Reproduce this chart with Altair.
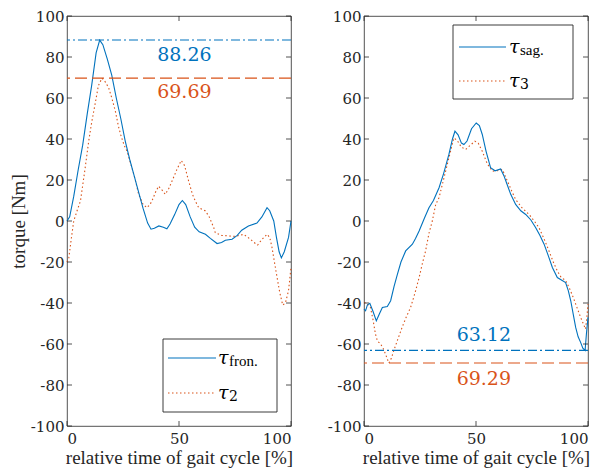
import altair as alt
import pandas as pd

BLUE = "#0072BD"
ORANGE = "#D95319"
FRAME = "#262626"
FONT = "Liberation Serif"      # latin letters
NUMFONT = "DejaVu Serif"       # digits / greek

# ---------------- data ----------------
fron_x = [0, 1.2, 3, 5, 7, 9, 11, 13, 14.6, 16, 18, 20, 22, 24, 26, 28, 30, 32, 34, 36, 37.5, 39, 41, 43,
          44.6, 46, 48, 50, 51.5, 53, 55, 57, 59, 61.8, 64, 67, 69, 70.7, 73.7, 76, 78, 81, 84.8, 87, 89.3,
          90.5, 92.3, 93.5, 94.7, 95.7, 97, 98.9, 100]
fron_y = [0, 2, 12, 25, 37, 52, 66, 82, 88.26, 86, 79, 71, 60, 50, 39, 30, 22, 14, 6, -1, -4, -3.5, -2.4, -3,
          -3.8, -1.5, 3, 8, 10, 8, 2, -3, -5.3, -6.5, -8.5, -11, -10.5, -9.4, -8.9, -7, -4.5, -2.4, -1, 2, 6.5,
          5, 0, -8, -15, -18, -15, -8, 0]

tau2_x = [0, 0.8, 2, 3, 4.5, 6, 8, 9.7, 11, 12.7, 14, 15.6, 17, 18.6, 20, 21.6, 23, 24, 25.5, 26.8, 29, 30.5,
          32, 34, 35.7, 37, 37.9, 39.5, 40.9, 42.5, 43.9, 45.5, 46.9, 49, 51, 52.5, 54.3, 56, 57.3, 58.8, 61.8,
          63.5, 65.5, 66.2, 69, 72.2, 75, 78.9, 81.9, 83.5, 85.1, 87, 89.3, 90.5, 91.5, 92.6, 93.8, 95, 96.3,
          97.5, 98.9, 100]
tau2_y = [-20, -18, -8, 0, 5, 9.7, 25, 39, 48, 58, 66, 69.69, 68, 65, 60, 53.5, 46, 42, 37, 34, 26, 20,
          13, 8, 6.5, 8, 9.7, 14, 17, 15, 13, 16, 19.5, 25, 29.5, 27, 19.5, 13, 9.7, 6.5, 4.9,
          2, -3.2, -5.7, -7, -7.3, -7.5, -6.5, -8.9, -10.5, -11.7, -9, -6.5, -8, -12.8, -20, -27.6, -35, -41,
          -40, -34, -22.7]

sag_x = [0, 0.7, 1.5, 2.6, 4, 5.5, 7, 8.2, 10.4, 11.9, 13.4, 14.9, 16.5, 18.6, 21.6, 23, 24.6, 27, 29, 31,
         33.5, 35.5, 37.9, 39.5, 40.6, 42, 43.5, 44.6, 46, 48, 50.1, 51.5, 52.8, 54.5, 56.5, 58.5, 61, 62.5,
         63.9, 65.5, 67.7, 70, 72.2, 74.5, 76.6, 78.5, 80.4, 82.3, 84.1, 86.3, 88.5, 90, 91.2, 92.3, 93.5,
         94.5, 95.6, 96.7, 97.7, 98.7, 99.3, 100]
sag_y = [-43, -43.8, -41, -40.2, -44, -48.7, -45, -42.2, -41.7, -38.9, -32, -26, -20, -14.6, -11.3, -8.5,
         -4.9, 1.5, 6.5, 10, 16.2, 23, 32.5, 40, 43.8, 42, 38, 37.3, 39, 45, 47.8, 46.5, 42.2, 34, 26, 24.5,
         25.4, 22, 17.8, 13, 8.1, 5, 3.2, 0.5, -3.2, -7, -11.3, -17, -22.7, -27.6, -29, -30, -34, -38.9, -46,
         -51.9, -56.5, -59.2, -62, -63.12, -55, -47]

tau3_x = [0, 0.7, 2.9, 4, 5.1, 6, 7.4, 8.5, 9.6, 11.1, 12.2, 13.3, 15, 17, 19, 20.8, 22.8, 24.6, 26, 27.5,
          29, 30.5, 32, 33.5, 35.7, 37.9, 40.1, 41.5, 43.5, 45.4, 47.5, 49.5, 51, 52.8, 55, 57.3, 59.5, 61.8,
          63.2, 64.7, 66.2, 67.7, 70.5, 73.7, 76, 78.1, 80.5, 82.6, 84.5, 86.3, 88, 90, 91.8, 93.4, 95, 96.7,
          98.9, 99.5, 100]
tau3_y = [-40, -39.8, -42.2, -48, -55.1, -58.5, -60, -62, -64.9, -69.29, -67, -63.2, -58, -51.9, -46.5,
          -42.2, -35, -27.6, -21, -14.6, -6, 0, 8, 11.4, 21, 30.8, 40.5, 39.5, 36, 34.9, 37, 38.9, 38, 34, 28,
          24.3, 24.5, 25.1, 21.5, 17.8, 14, 10.5, 6.5, 3.2, 0, -3.2, -9, -14.6, -20, -24.3, -27.5, -29, -33,
          -37.3, -42, -47, -52.7, -47, -40.5]

left_peaks = [88.26, 69.69]
right_peaks = [-63.12, -69.29]

x_ticks = [0, 50, 100]
y_ticks = [-100, -80, -60, -40, -20, 0, 20, 40, 60, 80, 100]

W, H = 224, 410

xscale = alt.Scale(domain=[0, 100], nice=False, zero=False)
yscale = alt.Scale(domain=[-100, 100], nice=False, zero=False)

axis_common = dict(domain=False, ticks=False, tickSize=0, grid=False, labelColor=FRAME, labelFont=NUMFONT,
                   labelFontSize=15, titleFont=FONT, titleFontSize=19, titleFontWeight="normal",
                   titleColor=FRAME, labelExpr="datum.value")


def xenc(field):
    return alt.X(field, type="quantitative", scale=xscale,
                 axis=alt.Axis(values=x_ticks, title="relative time of gait cycle [%]",
                               labelPadding=5, titlePadding=2, **axis_common))


def yenc(field, ytitle):
    if ytitle:
        ax = alt.Axis(values=y_ticks, title=ytitle, labelPadding=3, titlePadding=2, **axis_common)
    else:
        ax = alt.Axis(values=y_ticks, title=None, labelPadding=3, **axis_common)
    return alt.Y(field, type="quantitative", scale=yscale, axis=ax)


one = alt.Data(values=[{"k": 1}])


def panel(s1x, s1y, s2x, s2y, peaks, peak_text_pos, legend, sub1, sub2, ytitle):
    layers = []
    d1 = pd.DataFrame({"x": s1x, "y": s1y})
    d2 = pd.DataFrame({"x": s2x, "y": s2y})
    layers.append(alt.Chart(d2).mark_line(color=ORANGE, strokeWidth=1.1, strokeDash=[1.5, 2.5])
                  .encode(x=xenc("x"), y=yenc("y", ytitle)))
    layers.append(alt.Chart(d1).mark_line(color=BLUE, strokeWidth=1.1)
                  .encode(x=xenc("x"), y=yenc("y", ytitle)))
    dp1 = pd.DataFrame({"v": [peaks[0]], "label": [f"{abs(peaks[0]):.2f}"]})
    dp2 = pd.DataFrame({"v": [peaks[1]], "label": [f"{abs(peaks[1]):.2f}"]})
    layers.append(alt.Chart(dp1).mark_rule(color=BLUE, strokeWidth=1.1, strokeDash=[9, 3, 2, 3])
                  .encode(y=yenc("v", ytitle)))
    layers.append(alt.Chart(dp2).mark_rule(color=ORANGE, strokeWidth=1.1, strokeDash=[12, 5])
                  .encode(y=yenc("v", ytitle)))
    (tx1, ty1), (tx2, ty2) = peak_text_pos
    layers.append(alt.Chart(dp1).mark_text(color=BLUE, font=NUMFONT, fontSize=19, baseline="middle")
                  .encode(x=alt.datum(tx1), y=alt.datum(ty1), text="label:N"))
    layers.append(alt.Chart(dp2).mark_text(color=ORANGE, font=NUMFONT, fontSize=19, baseline="middle")
                  .encode(x=alt.datum(tx2), y=alt.datum(ty2), text="label:N"))
    dyt = pd.DataFrame({"v": y_ticks})
    dxt = pd.DataFrame({"v": x_ticks})
    for a, b in [(0, 5), (W - 5, W)]:
        layers.append(alt.Chart(dyt).mark_rule(color=FRAME, strokeWidth=0.8)
                      .encode(y=yenc("v", ytitle), x=alt.value(a), x2=alt.value(b)))
    for a, b in [(0, 5), (H - 5, H)]:
        layers.append(alt.Chart(dxt).mark_rule(color=FRAME, strokeWidth=0.8)
                      .encode(x=xenc("v"), y=alt.value(a), y2=alt.value(b)))
    bx0, bx1, by0, by1, lx0, lx1, r1, r2, tx, sx = legend
    layers.append(alt.Chart(one).mark_rect(fill="white", stroke=FRAME, strokeWidth=0.9)
                  .encode(x=alt.value(bx0), x2=alt.value(bx1), y=alt.value(by0), y2=alt.value(by1)))
    layers.append(alt.Chart(one).mark_rule(color=BLUE, strokeWidth=1.1)
                  .encode(x=alt.value(lx0), x2=alt.value(lx1), y=alt.value(r1)))
    layers.append(alt.Chart(one).mark_rule(color=ORANGE, strokeWidth=1.1, strokeDash=[1.5, 2.5])
                  .encode(x=alt.value(lx0), x2=alt.value(lx1), y=alt.value(r2)))
    for ry, sub, sfont, ssize in [(r1, sub1, FONT, 15), (r2, sub2, NUMFONT, 14)]:
        layers.append(alt.Chart(one).mark_text(text="τ", font=NUMFONT, fontStyle="italic", fontSize=19,
                                               align="left", baseline="alphabetic", color="black")
                      .encode(x=alt.value(tx), y=alt.value(ry + 6)))
        layers.append(alt.Chart(one).mark_text(text=sub, font=sfont, fontSize=ssize,
                                               align="left", baseline="alphabetic", color="black")
                      .encode(x=alt.value(sx), y=alt.value(ry + 8)))
    return alt.layer(*layers).properties(width=W, height=H)


left = panel(fron_x, fron_y, tau2_x, tau2_y, left_peaks, [(52.4, 81.1), (52.4, 63)],
             (96, 210, 323, 396, 101, 149, 342, 377, 151, 162), "fron.", "2", "torque [Nm]")
right = panel(sag_x, sag_y, tau3_x, tau3_y, right_peaks, [(53.5, -55.5), (53.5, -77)],
              (89, 209, 9, 83, 95, 142, 31, 65, 145, 156), "sag.", "3", None)

chart = (alt.hconcat(left, right, spacing=73, bounds="flush")
         .properties(padding={"left": 0, "top": 0, "right": 0, "bottom": 0}, background="white")
         .configure_view(stroke=FRAME, strokeWidth=0.8))

chart.save("out.html", embed_options={"renderer": "svg", "actions": False})
